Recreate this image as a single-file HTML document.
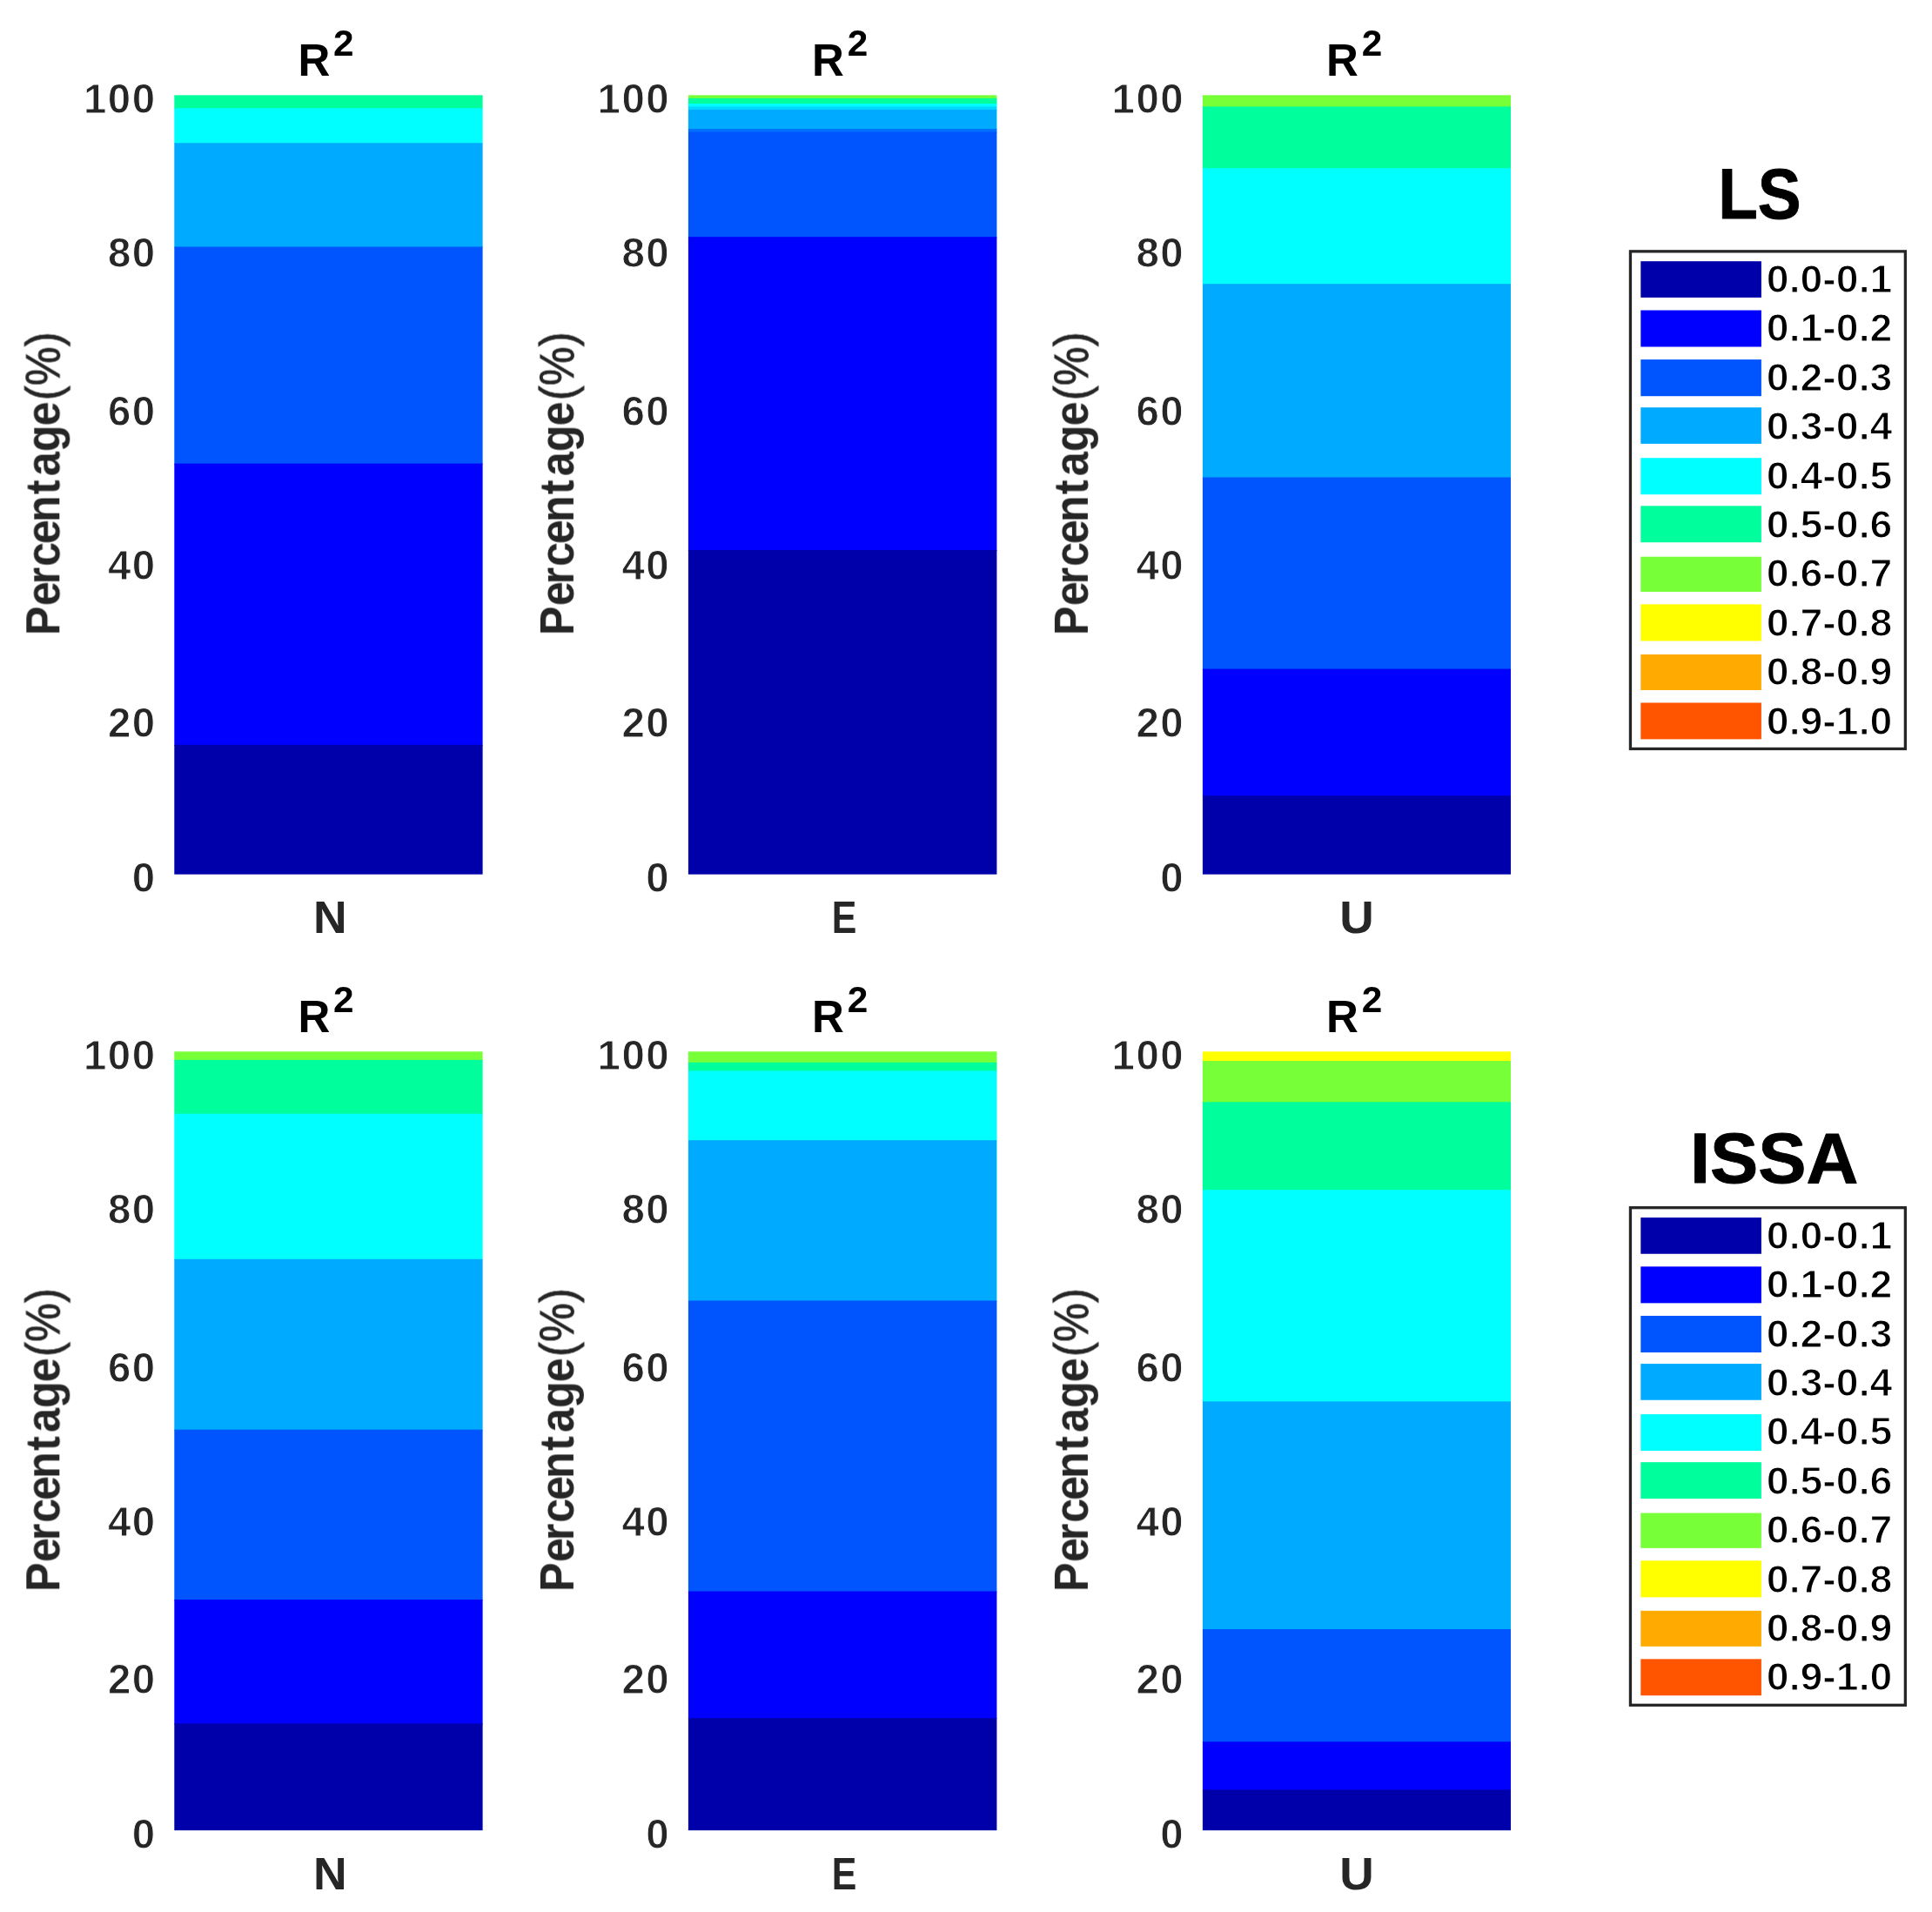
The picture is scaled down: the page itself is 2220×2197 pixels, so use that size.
<!DOCTYPE html>
<html lang="en"><head><meta charset="utf-8"><title>R2 percentage</title>
<style>
html,body{margin:0;padding:0;background:#fff;}
body{width:2220px;height:2197px;overflow:hidden;}
svg{display:block;}
text{font-family:"Liberation Sans",Arial,Helvetica,sans-serif;font-weight:bold;}
.soft{filter:blur(0.7px);}
.tk{font-size:47.4px;fill:#262626;letter-spacing:1.5px;text-anchor:end;stroke:#fff;stroke-width:0.9px;stroke-linejoin:round;}
.xl{font-size:51.3px;fill:#262626;text-anchor:middle;}
.yl{font-size:55.2px;fill:#262626;}
.pc{font-weight:normal;stroke:#262626;stroke-width:0.8px;}
.ti{font-size:51px;fill:#000;}
.sp{font-size:42.3px;fill:#000;}
.lg{font-size:44.2px;fill:#000;stroke:#fff;stroke-width:1.2px;stroke-linejoin:round;}
.lt{font-size:82px;fill:#000;stroke:#000;stroke-width:0.9px;stroke-linejoin:round;}
</style></head><body>
<svg width="2220" height="2197" viewBox="0 0 2220 2197">
<rect x="0" y="0" width="2220" height="2197" fill="#fff"/>
<g>
<rect x="200.3" y="109.35" width="354.3" height="15.95" fill="#00ff9c"/>
<rect x="200.3" y="124.3" width="354.3" height="41" fill="#00ffff"/>
<rect x="200.3" y="164.3" width="354.3" height="120.2" fill="#00aaff"/>
<rect x="200.3" y="283.5" width="354.3" height="250.1" fill="#0055ff"/>
<rect x="200.3" y="532.6" width="354.3" height="324.2" fill="#0000ff"/>
<rect x="200.3" y="855.8" width="354.3" height="148.9" fill="#0000aa"/>
<text class="tk soft" x="179.6" y="1025.1">0</text>
<text class="tk soft" x="179.6" y="847.3">20</text>
<text class="tk soft" x="179.6" y="666.1">40</text>
<text class="tk soft" x="179.6" y="488.7">60</text>
<text class="tk soft" x="179.6" y="307.2">80</text>
<text class="tk soft" x="179.6" y="129.75">100</text>
<text class="xl soft" x="379.2" y="1072.3" textLength="38.6" lengthAdjust="spacingAndGlyphs">N</text>
<text class="ti soft" x="342.45" y="86.85">R<tspan class="sp" x="383.1" dy="-22.95">2</tspan></text>
<text class="yl soft" transform="translate(68.3 726.6) rotate(-90) scale(0.91 1)" x="-3.96 33.63 60.66 83.3 111.65 139.12 174.29 197.36 228.13 260.66 292.97 311.65 361.1">Percentage<tspan class="pc">(%)</tspan></text>
</g>
<g>
<rect x="790.9" y="109.35" width="354.5" height="4.55" fill="#77ff38"/>
<rect x="790.9" y="112.9" width="354.5" height="7.2" fill="#00ff9c"/>
<rect x="790.9" y="119.1" width="354.5" height="4.3" fill="#00ffff"/>
<rect x="790.9" y="122.4" width="354.5" height="4.7" fill="#00d8ff"/>
<rect x="790.9" y="126.1" width="354.5" height="22.95" fill="#00aaff"/>
<rect x="790.9" y="148.05" width="354.5" height="4.45" fill="#0070ff"/>
<rect x="790.9" y="151.5" width="354.5" height="121.7" fill="#0055ff"/>
<rect x="790.9" y="272.2" width="354.5" height="360.8" fill="#0000ff"/>
<rect x="790.9" y="632" width="354.5" height="372.7" fill="#0000aa"/>
<text class="tk soft" x="770.2" y="1025.1">0</text>
<text class="tk soft" x="770.2" y="847.3">20</text>
<text class="tk soft" x="770.2" y="666.1">40</text>
<text class="tk soft" x="770.2" y="488.7">60</text>
<text class="tk soft" x="770.2" y="307.2">80</text>
<text class="tk soft" x="770.2" y="129.75">100</text>
<text class="xl soft" x="970" y="1072.3" textLength="28.6" lengthAdjust="spacingAndGlyphs">E</text>
<text class="ti soft" x="933.05" y="86.85">R<tspan class="sp" x="973.7" dy="-22.95">2</tspan></text>
<text class="yl soft" transform="translate(658.9 726.6) rotate(-90) scale(0.91 1)" x="-3.96 33.63 60.66 83.3 111.65 139.12 174.29 197.36 228.13 260.66 292.97 311.65 361.1">Percentage<tspan class="pc">(%)</tspan></text>
</g>
<g>
<rect x="1381.9" y="109.35" width="354.1" height="14.05" fill="#77ff38"/>
<rect x="1381.9" y="122.4" width="354.1" height="71.8" fill="#00ff9c"/>
<rect x="1381.9" y="193.2" width="354.1" height="134" fill="#00ffff"/>
<rect x="1381.9" y="326.2" width="354.1" height="223.3" fill="#00aaff"/>
<rect x="1381.9" y="548.5" width="354.1" height="221.1" fill="#0055ff"/>
<rect x="1381.9" y="768.6" width="354.1" height="146.7" fill="#0000ff"/>
<rect x="1381.9" y="914.3" width="354.1" height="90.4" fill="#0000aa"/>
<text class="tk soft" x="1361.2" y="1025.1">0</text>
<text class="tk soft" x="1361.2" y="847.3">20</text>
<text class="tk soft" x="1361.2" y="666.1">40</text>
<text class="tk soft" x="1361.2" y="488.7">60</text>
<text class="tk soft" x="1361.2" y="307.2">80</text>
<text class="tk soft" x="1361.2" y="129.75">100</text>
<text class="xl soft" x="1558.9" y="1072.3" textLength="39.5" lengthAdjust="spacingAndGlyphs">U</text>
<text class="ti soft" x="1524.05" y="86.85">R<tspan class="sp" x="1564.7" dy="-22.95">2</tspan></text>
<text class="yl soft" transform="translate(1249.9 726.6) rotate(-90) scale(0.91 1)" x="-3.96 33.63 60.66 83.3 111.65 139.12 174.29 197.36 228.13 260.66 292.97 311.65 361.1">Percentage<tspan class="pc">(%)</tspan></text>
</g>
<g>
<rect x="200.3" y="1208.3" width="354.3" height="10.6" fill="#77ff38"/>
<rect x="200.3" y="1217.9" width="354.3" height="62.9" fill="#00ff9c"/>
<rect x="200.3" y="1279.8" width="354.3" height="168" fill="#00ffff"/>
<rect x="200.3" y="1446.8" width="354.3" height="196.9" fill="#00aaff"/>
<rect x="200.3" y="1642.7" width="354.3" height="196.3" fill="#0055ff"/>
<rect x="200.3" y="1838" width="354.3" height="143.4" fill="#0000ff"/>
<rect x="200.3" y="1980.4" width="354.3" height="122.8" fill="#0000aa"/>
<text class="tk soft" x="179.6" y="2123.95">0</text>
<text class="tk soft" x="179.6" y="1946.15">20</text>
<text class="tk soft" x="179.6" y="1764.95">40</text>
<text class="tk soft" x="179.6" y="1587.55">60</text>
<text class="tk soft" x="179.6" y="1406.05">80</text>
<text class="tk soft" x="179.6" y="1228.6">100</text>
<text class="xl soft" x="379.2" y="2171.2" textLength="38.6" lengthAdjust="spacingAndGlyphs">N</text>
<text class="ti soft" x="342.45" y="1185.7">R<tspan class="sp" x="383.1" dy="-22.95">2</tspan></text>
<text class="yl soft" transform="translate(68.3 1825.45) rotate(-90) scale(0.91 1)" x="-3.96 33.63 60.66 83.3 111.65 139.12 174.29 197.36 228.13 260.66 292.97 311.65 361.1">Percentage<tspan class="pc">(%)</tspan></text>
</g>
<g>
<rect x="790.9" y="1208.3" width="354.5" height="13.5" fill="#77ff38"/>
<rect x="790.9" y="1220.8" width="354.5" height="10.6" fill="#00ff9c"/>
<rect x="790.9" y="1230.4" width="354.5" height="80.8" fill="#00ffff"/>
<rect x="790.9" y="1310.2" width="354.5" height="185.3" fill="#00aaff"/>
<rect x="790.9" y="1494.5" width="354.5" height="335" fill="#0055ff"/>
<rect x="790.9" y="1828.5" width="354.5" height="146.6" fill="#0000ff"/>
<rect x="790.9" y="1974.1" width="354.5" height="129.1" fill="#0000aa"/>
<text class="tk soft" x="770.2" y="2123.95">0</text>
<text class="tk soft" x="770.2" y="1946.15">20</text>
<text class="tk soft" x="770.2" y="1764.95">40</text>
<text class="tk soft" x="770.2" y="1587.55">60</text>
<text class="tk soft" x="770.2" y="1406.05">80</text>
<text class="tk soft" x="770.2" y="1228.6">100</text>
<text class="xl soft" x="970" y="2171.2" textLength="28.6" lengthAdjust="spacingAndGlyphs">E</text>
<text class="ti soft" x="933.05" y="1185.7">R<tspan class="sp" x="973.7" dy="-22.95">2</tspan></text>
<text class="yl soft" transform="translate(658.9 1825.45) rotate(-90) scale(0.91 1)" x="-3.96 33.63 60.66 83.3 111.65 139.12 174.29 197.36 228.13 260.66 292.97 311.65 361.1">Percentage<tspan class="pc">(%)</tspan></text>
</g>
<g>
<rect x="1381.9" y="1208.3" width="354.1" height="11.8" fill="#ffff00"/>
<rect x="1381.9" y="1219.1" width="354.1" height="48.2" fill="#77ff38"/>
<rect x="1381.9" y="1266.3" width="354.1" height="101.9" fill="#00ff9c"/>
<rect x="1381.9" y="1367.2" width="354.1" height="244.1" fill="#00ffff"/>
<rect x="1381.9" y="1610.3" width="354.1" height="262.7" fill="#00aaff"/>
<rect x="1381.9" y="1872" width="354.1" height="130.3" fill="#0055ff"/>
<rect x="1381.9" y="2001.3" width="354.1" height="56.2" fill="#0000ff"/>
<rect x="1381.9" y="2056.5" width="354.1" height="46.7" fill="#0000aa"/>
<text class="tk soft" x="1361.2" y="2123.95">0</text>
<text class="tk soft" x="1361.2" y="1946.15">20</text>
<text class="tk soft" x="1361.2" y="1764.95">40</text>
<text class="tk soft" x="1361.2" y="1587.55">60</text>
<text class="tk soft" x="1361.2" y="1406.05">80</text>
<text class="tk soft" x="1361.2" y="1228.6">100</text>
<text class="xl soft" x="1558.9" y="2171.2" textLength="39.5" lengthAdjust="spacingAndGlyphs">U</text>
<text class="ti soft" x="1524.05" y="1185.7">R<tspan class="sp" x="1564.7" dy="-22.95">2</tspan></text>
<text class="yl soft" transform="translate(1249.9 1825.45) rotate(-90) scale(0.91 1)" x="-3.96 33.63 60.66 83.3 111.65 139.12 174.29 197.36 228.13 260.66 292.97 311.65 361.1">Percentage<tspan class="pc">(%)</tspan></text>
</g>
<g>
<text class="lt soft" x="1974.2" y="250.6" textLength="95.4" lengthAdjust="spacingAndGlyphs">LS</text>
<rect x="1873.45" y="288.85" width="315.9" height="571.6" fill="#fff" stroke="#262626" stroke-width="3.3"/>
<rect x="1885.3" y="300.2" width="138.6" height="41.7" fill="#0000aa"/>
<text class="lg soft" x="2029.8" y="336" textLength="144.6" lengthAdjust="spacingAndGlyphs">0.0-0.1</text>
<rect x="1885.3" y="356.5" width="138.6" height="42" fill="#0000ff"/>
<text class="lg soft" x="2029.8" y="392.4" textLength="144.6" lengthAdjust="spacingAndGlyphs">0.1-0.2</text>
<rect x="1885.3" y="413.1" width="138.6" height="42.1" fill="#0055ff"/>
<text class="lg soft" x="2029.8" y="448.8" textLength="144.6" lengthAdjust="spacingAndGlyphs">0.2-0.3</text>
<rect x="1885.3" y="468.2" width="138.6" height="41.7" fill="#00aaff"/>
<text class="lg soft" x="2029.8" y="505.2" textLength="144.6" lengthAdjust="spacingAndGlyphs">0.3-0.4</text>
<rect x="1885.3" y="526.2" width="138.6" height="42" fill="#00ffff"/>
<text class="lg soft" x="2029.8" y="561.6" textLength="144.6" lengthAdjust="spacingAndGlyphs">0.4-0.5</text>
<rect x="1885.3" y="581.3" width="138.6" height="41.9" fill="#00ff9c"/>
<text class="lg soft" x="2029.8" y="618" textLength="144.6" lengthAdjust="spacingAndGlyphs">0.5-0.6</text>
<rect x="1885.3" y="639.7" width="138.6" height="40.3" fill="#77ff38"/>
<text class="lg soft" x="2029.8" y="674.4" textLength="144.6" lengthAdjust="spacingAndGlyphs">0.6-0.7</text>
<rect x="1885.3" y="694.4" width="138.6" height="42.1" fill="#ffff00"/>
<text class="lg soft" x="2029.8" y="730.8" textLength="144.6" lengthAdjust="spacingAndGlyphs">0.7-0.8</text>
<rect x="1885.3" y="752" width="138.6" height="41" fill="#ffaa00"/>
<text class="lg soft" x="2029.8" y="787.2" textLength="144.6" lengthAdjust="spacingAndGlyphs">0.8-0.9</text>
<rect x="1885.3" y="807.5" width="138.6" height="41.9" fill="#ff5500"/>
<text class="lg soft" x="2029.8" y="843.6" textLength="144.6" lengthAdjust="spacingAndGlyphs">0.9-1.0</text>
</g>
<g>
<text class="lt soft" x="1941.9" y="1359" textLength="193.4" lengthAdjust="spacingAndGlyphs">ISSA</text>
<rect x="1873.45" y="1387.7" width="315.9" height="571.6" fill="#fff" stroke="#262626" stroke-width="3.3"/>
<rect x="1885.3" y="1399.05" width="138.6" height="41.7" fill="#0000aa"/>
<text class="lg soft" x="2029.8" y="1434.85" textLength="144.6" lengthAdjust="spacingAndGlyphs">0.0-0.1</text>
<rect x="1885.3" y="1455.35" width="138.6" height="42" fill="#0000ff"/>
<text class="lg soft" x="2029.8" y="1491.25" textLength="144.6" lengthAdjust="spacingAndGlyphs">0.1-0.2</text>
<rect x="1885.3" y="1511.95" width="138.6" height="42.1" fill="#0055ff"/>
<text class="lg soft" x="2029.8" y="1547.65" textLength="144.6" lengthAdjust="spacingAndGlyphs">0.2-0.3</text>
<rect x="1885.3" y="1567.05" width="138.6" height="41.7" fill="#00aaff"/>
<text class="lg soft" x="2029.8" y="1604.05" textLength="144.6" lengthAdjust="spacingAndGlyphs">0.3-0.4</text>
<rect x="1885.3" y="1625.05" width="138.6" height="42" fill="#00ffff"/>
<text class="lg soft" x="2029.8" y="1660.45" textLength="144.6" lengthAdjust="spacingAndGlyphs">0.4-0.5</text>
<rect x="1885.3" y="1680.15" width="138.6" height="41.9" fill="#00ff9c"/>
<text class="lg soft" x="2029.8" y="1716.85" textLength="144.6" lengthAdjust="spacingAndGlyphs">0.5-0.6</text>
<rect x="1885.3" y="1738.55" width="138.6" height="40.3" fill="#77ff38"/>
<text class="lg soft" x="2029.8" y="1773.25" textLength="144.6" lengthAdjust="spacingAndGlyphs">0.6-0.7</text>
<rect x="1885.3" y="1793.25" width="138.6" height="42.1" fill="#ffff00"/>
<text class="lg soft" x="2029.8" y="1829.65" textLength="144.6" lengthAdjust="spacingAndGlyphs">0.7-0.8</text>
<rect x="1885.3" y="1850.85" width="138.6" height="41" fill="#ffaa00"/>
<text class="lg soft" x="2029.8" y="1886.05" textLength="144.6" lengthAdjust="spacingAndGlyphs">0.8-0.9</text>
<rect x="1885.3" y="1906.35" width="138.6" height="41.9" fill="#ff5500"/>
<text class="lg soft" x="2029.8" y="1942.45" textLength="144.6" lengthAdjust="spacingAndGlyphs">0.9-1.0</text>
</g>
</svg>
</body></html>
